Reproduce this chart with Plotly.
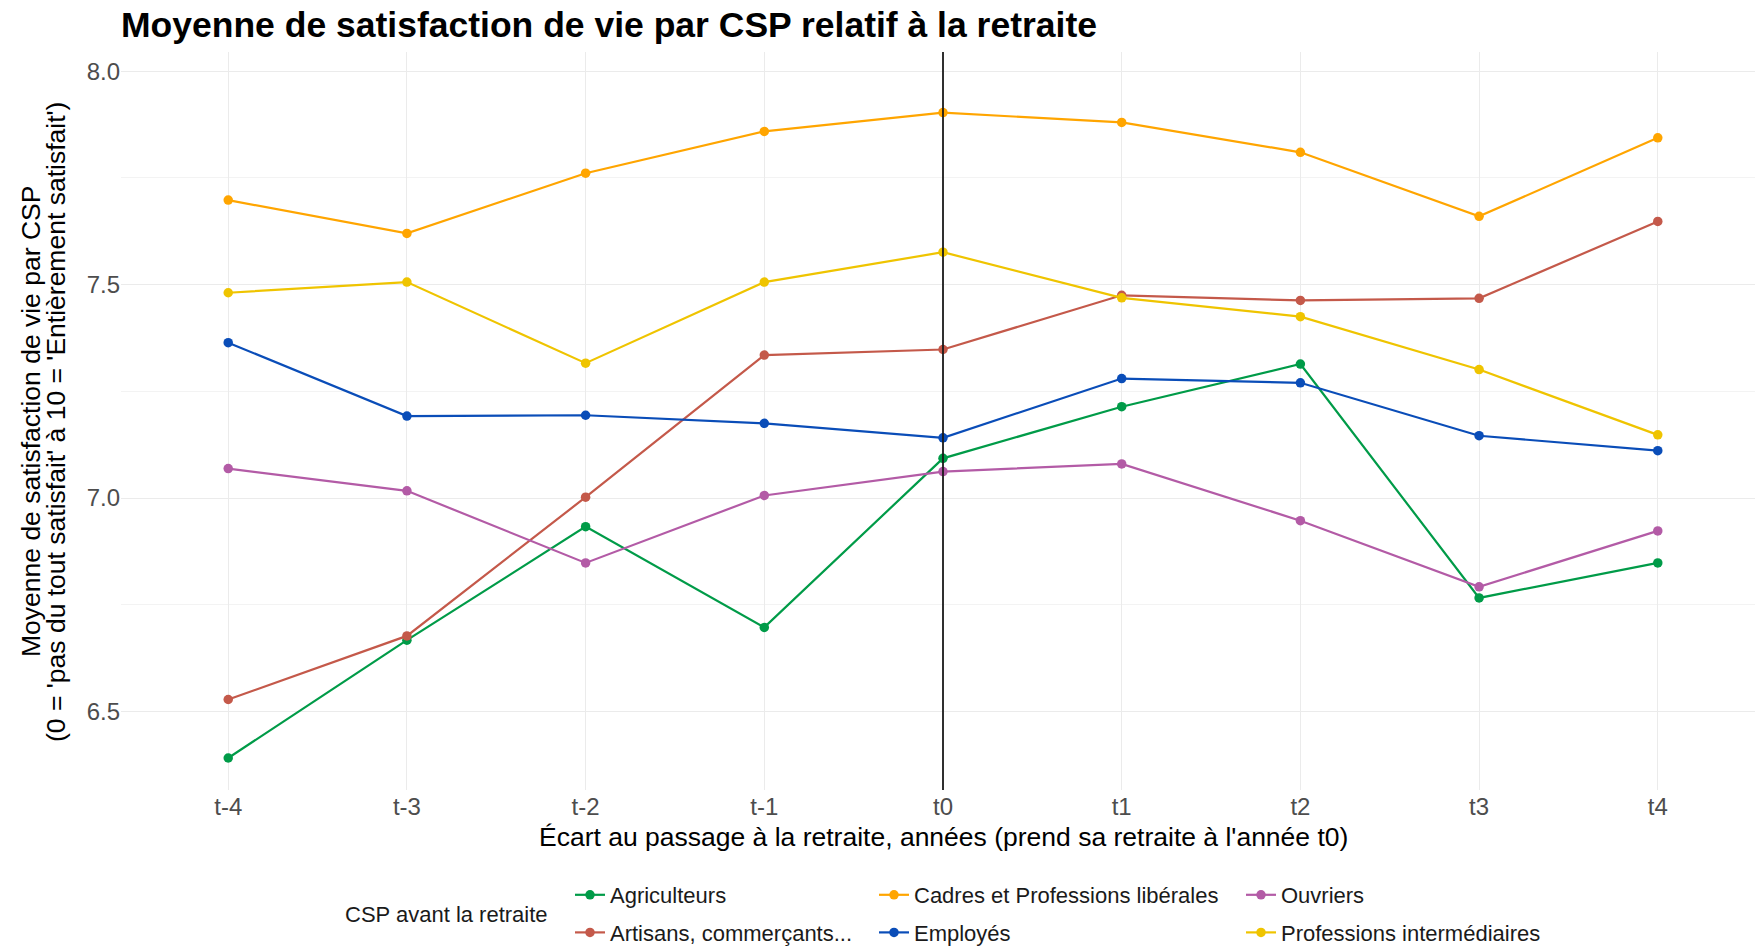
import plotly.graph_objects as go

categories = ["t-4", "t-3", "t-2", "t-1", "t0", "t1", "t2", "t3", "t4"]

agriculteurs = [6.391, 6.667, 6.933, 6.697, 7.093, 7.214, 7.314, 6.766, 6.848]
artisans = [6.528, 6.677, 7.002, 7.335, 7.348, 7.475, 7.463, 7.468, 7.648]
cadres = [7.698, 7.620, 7.761, 7.859, 7.903, 7.880, 7.810, 7.660, 7.844]
employes = [7.364, 7.192, 7.194, 7.175, 7.141, 7.280, 7.270, 7.146, 7.111]
ouvriers = [7.069, 7.017, 6.848, 7.006, 7.062, 7.080, 6.947, 6.792, 6.923]
prof_inter = [7.481, 7.506, 7.316, 7.506, 7.576, 7.469, 7.425, 7.301, 7.148]

series_names = ["Agriculteurs", "Artisans, commerçants...", "Cadres et Professions libérales",
                "Employés", "Ouvriers", "Professions intermédiaires"]
series_values = [agriculteurs, artisans, cadres, employes, ouvriers, prof_inter]
series_colors = ["#009B48", "#C4594A", "#FFA500", "#0A4DB8", "#B35BA6", "#EFC400"]
series_legends = ["legend", "legend", "legend2", "legend2", "legend3", "legend3"]

FONT = "Liberation Sans, Arial, Helvetica, sans-serif"

fig = go.Figure()
for name, vals, col, leg in zip(series_names, series_values, series_colors, series_legends):
    fig.add_trace(go.Scatter(
        x=categories, y=vals, name=name, mode="lines+markers",
        line=dict(color=col, width=2.2),
        marker=dict(color=col, size=9.5),
        legend=leg, legendgroup=name,
    ))

W, H = 1755, 946
ml, mr, mt, mb = 121, 0, 52, 156
pw = W - ml - mr
ph = H - mt - mb

def px_x(p):
    return (p - ml) / pw

def px_y(p):
    return (H - mb - p) / ph

fig.add_shape(type="line", xref="x", yref="paper", x0="t0", x1="t0", y0=0, y1=1,
              line=dict(color="#1a1a1a", width=1.8), layer="above")

leg_common = dict(orientation="v", xanchor="left", yanchor="top", bgcolor="rgba(0,0,0,0)",
                  font=dict(family=FONT, size=22, color="#1a1a1a"), tracegroupgap=6,
                  itemwidth=30)

fig.update_layout(
    width=W, height=H,
    margin=dict(l=ml, r=mr, t=mt, b=mb, autoexpand=False),
    plot_bgcolor="white", paper_bgcolor="white",
    font=dict(family=FONT),
    title=dict(text="<b>Moyenne de satisfaction de vie par CSP relatif à la retraite</b>",
               font=dict(family=FONT, size=35.5, color="black"),
               x=px_x(121), xref="paper", xanchor="left",
               y=1 - 25 / H, yref="container", yanchor="middle"),
    xaxis=dict(type="category", categoryorder="array", categoryarray=categories,
               range=[-0.6, 8.6 - 10 / 178.7],
               showgrid=True, gridcolor="#EBEBEB", gridwidth=1.3,
               zeroline=False, showline=False, ticks="",
               tickfont=dict(family=FONT, size=24, color="#4D4D4D")),
    yaxis=dict(range=[6.316, 8.045], tick0=6.5, dtick=0.5, tickformat=".1f",
               showgrid=True, gridcolor="#EBEBEB", gridwidth=1.3,
               minor=dict(dtick=0.25, tick0=6.25, showgrid=True, gridcolor="#F3F3F3", gridwidth=1),
               zeroline=False, showline=False, ticks="",
               tickfont=dict(family=FONT, size=24, color="#4D4D4D")),
    showlegend=True,
    legend=dict(x=px_x(570), y=px_y(874), **leg_common),
    legend2=dict(x=px_x(874), y=px_y(874), **leg_common),
    legend3=dict(x=px_x(1241), y=px_y(874), **leg_common),
)

fig.add_annotation(text="Moyenne de satisfaction de vie par CSP",
                   xref="paper", yref="paper", x=px_x(31), y=px_y(422),
                   xanchor="center", yanchor="middle", textangle=-90, showarrow=False,
                   font=dict(family=FONT, size=26.5, color="black"))
fig.add_annotation(text="(0 = 'pas du tout satisfait' à 10 = 'Entièrement satisfait')",
                   xref="paper", yref="paper", x=px_x(56), y=px_y(422),
                   xanchor="center", yanchor="middle", textangle=-90, showarrow=False,
                   font=dict(family=FONT, size=26.5, color="black"))

fig.add_annotation(text="Écart au passage à la retraite, années (prend sa retraite à l'année t0)",
                   xref="x", yref="paper", x="t0", y=px_y(837),
                   xanchor="center", yanchor="middle", showarrow=False,
                   font=dict(family=FONT, size=26.5, color="black"))

fig.add_annotation(text="CSP avant la retraite",
                   xref="paper", yref="paper", x=px_x(343), y=px_y(914),
                   xanchor="left", yanchor="middle", showarrow=False,
                   font=dict(family=FONT, size=22, color="#1a1a1a"))

fig.write_html("out.html",
               config={"displayModeBar": False},
               post_script="document.body.style.margin='0';document.body.style.overflow='hidden';")
